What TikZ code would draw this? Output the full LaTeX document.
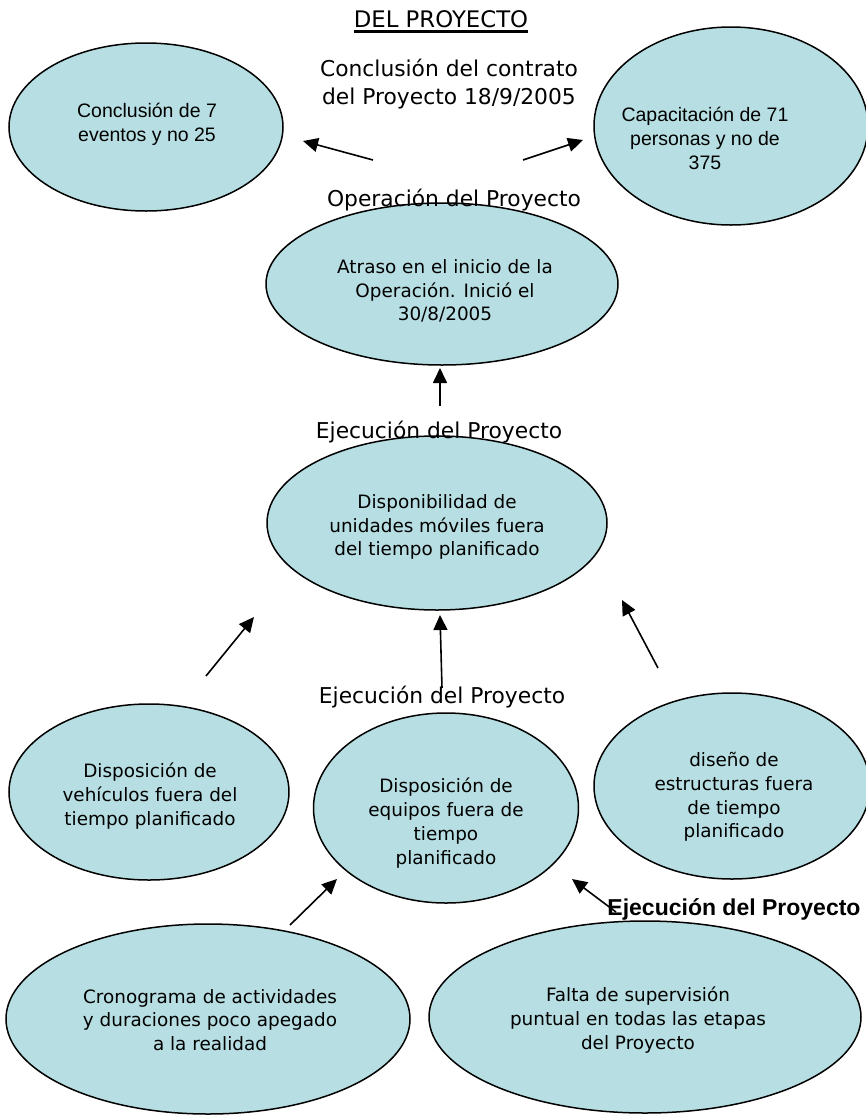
\documentclass[tikz,border=0pt]{standalone}
\usepackage{fontspec}
\setmainfont{DejaVu Sans}
\newfontfamily\arialfont{Liberation Sans}
\usetikzlibrary{shapes.geometric,arrows.meta}
\definecolor{bub}{RGB}{183,223,227}
\tikzset{
  bubble/.style={ellipse, draw=black, line width=1.5pt, fill=bub, inner sep=0pt, outer sep=0pt},
  intext/.style={align=center, font=\fontsize{18.4}{23.8}\selectfont, inner sep=0pt},
  artext/.style={align=center, font=\arialfont\fontsize{19.5}{24}\selectfont, inner sep=0pt},
  lbl/.style={align=center, font=\fontsize{21.8}{27.7}\selectfont, inner sep=0pt},
  boldlbl/.style={font=\arialfont\bfseries\fontsize{23}{27}\selectfont, inner sep=0pt},
  arr/.style={line width=1.6pt, -{Triangle[length=15pt,width=14pt]}},
}
\begin{document}
\begin{tikzpicture}[x=1pt,y=-1pt]
\useasboundingbox (0,0) rectangle (866,1117);

% ellipses
\node[bubble, minimum width=274pt, minimum height=168pt] (e1) at (146,127) {};
\node[bubble, minimum width=274pt, minimum height=198pt] (e2) at (731,126) {};
\node[bubble, minimum width=352pt, minimum height=162pt] (e3) at (442,284) {};
\node[bubble, minimum width=340pt, minimum height=174pt] (e4) at (437,523) {};
\node[bubble, minimum width=280pt, minimum height=176pt] (e5) at (149,792) {};
\node[bubble, minimum width=265pt, minimum height=190pt] (e6) at (446,808) {};
\node[bubble, minimum width=276pt, minimum height=186pt] (e7) at (732,786) {};
\node[bubble, minimum width=404pt, minimum height=190pt] (e8) at (208,1019) {};
\node[bubble, minimum width=432pt, minimum height=192pt] (e9) at (645,1017) {};

% ellipse texts
\node[artext] (t1) at (147,124) {Conclusión de 7\\eventos y no 25};
\node[artext] (t2) at (705,138) {Capacitación de 71\\personas y no de\\375};
\node[intext] (t3) at (445,291) {Atraso en el inicio de la\\Operación. Inició el\\30/8/2005};
\node[intext] (t4) at (437,527) {Disponibilidad de\\unidades móviles fuera\\del tiempo planificado};
\node[intext] (t5) at (150,796) {Disposición de\\vehículos fuera del\\tiempo planificado};
\node[intext] (t6) at (446,823) {Disposición de\\equipos fuera de\\tiempo\\planificado};
\node[intext] (t7) at (734,797) {diseño de\\estructuras fuera\\de tiempo\\planificado};
\node[intext] (t8) at (210,1020) {Cronograma de actividades\\y duraciones poco apegado\\a la realidad};
\node[intext] (t9) at (638,1020) {Falta de supervisión\\puntual en todas las etapas\\del Proyecto};

% labels
\node[lbl, anchor=base, font=\fontsize{22.8}{27}\selectfont] (title) at (441,27) {DEL PROYECTO};
\draw[line width=2.3pt] ([yshift=-4.5pt]title.base west) -- ([yshift=-4.5pt]title.base east);
\node[lbl] (l1) at (449,84) {Conclusión del contrato\\del Proyecto 18/9/2005};
\node[lbl, anchor=base] (l2) at (454,206) {Operación del Proyecto};
\node[lbl, anchor=base] (l3) at (439,438) {Ejecución del Proyecto};
\node[lbl, anchor=base] (l4) at (442,703) {Ejecución del Proyecto};
\node[boldlbl, anchor=base] (l5) at (734,915) {Ejecución del Proyecto};

% arrow end points
\coordinate (a1s) at (373,160); \coordinate (a1e) at (303,141);
\coordinate (a2s) at (523,160); \coordinate (a2e) at (583,140);
\coordinate (a3s) at (440,406); \coordinate (a3e) at (440,368);
\coordinate (a4s) at (206,676); \coordinate (a4e) at (254,617);
\coordinate (a5s) at (442,688); \coordinate (a5e) at (440,615);
\coordinate (a6s) at (658,668); \coordinate (a6e) at (622,600);
\coordinate (a7s) at (290,925); \coordinate (a7e) at (337,879);
\coordinate (a8s) at (616,912); \coordinate (a8e) at (572,879);

\draw[arr] (a1s) -- (a1e);
\draw[arr] (a2s) -- (a2e);
\draw[arr] (a3s) -- (a3e);
\draw[arr] (a4s) -- (a4e);
\draw[arr] (a5s) -- (a5e);
\draw[arr] (a6s) -- (a6e);
\draw[arr] (a7s) -- (a7e);
\draw[arr] (a8s) -- (a8e);
\end{tikzpicture}
\end{document}
